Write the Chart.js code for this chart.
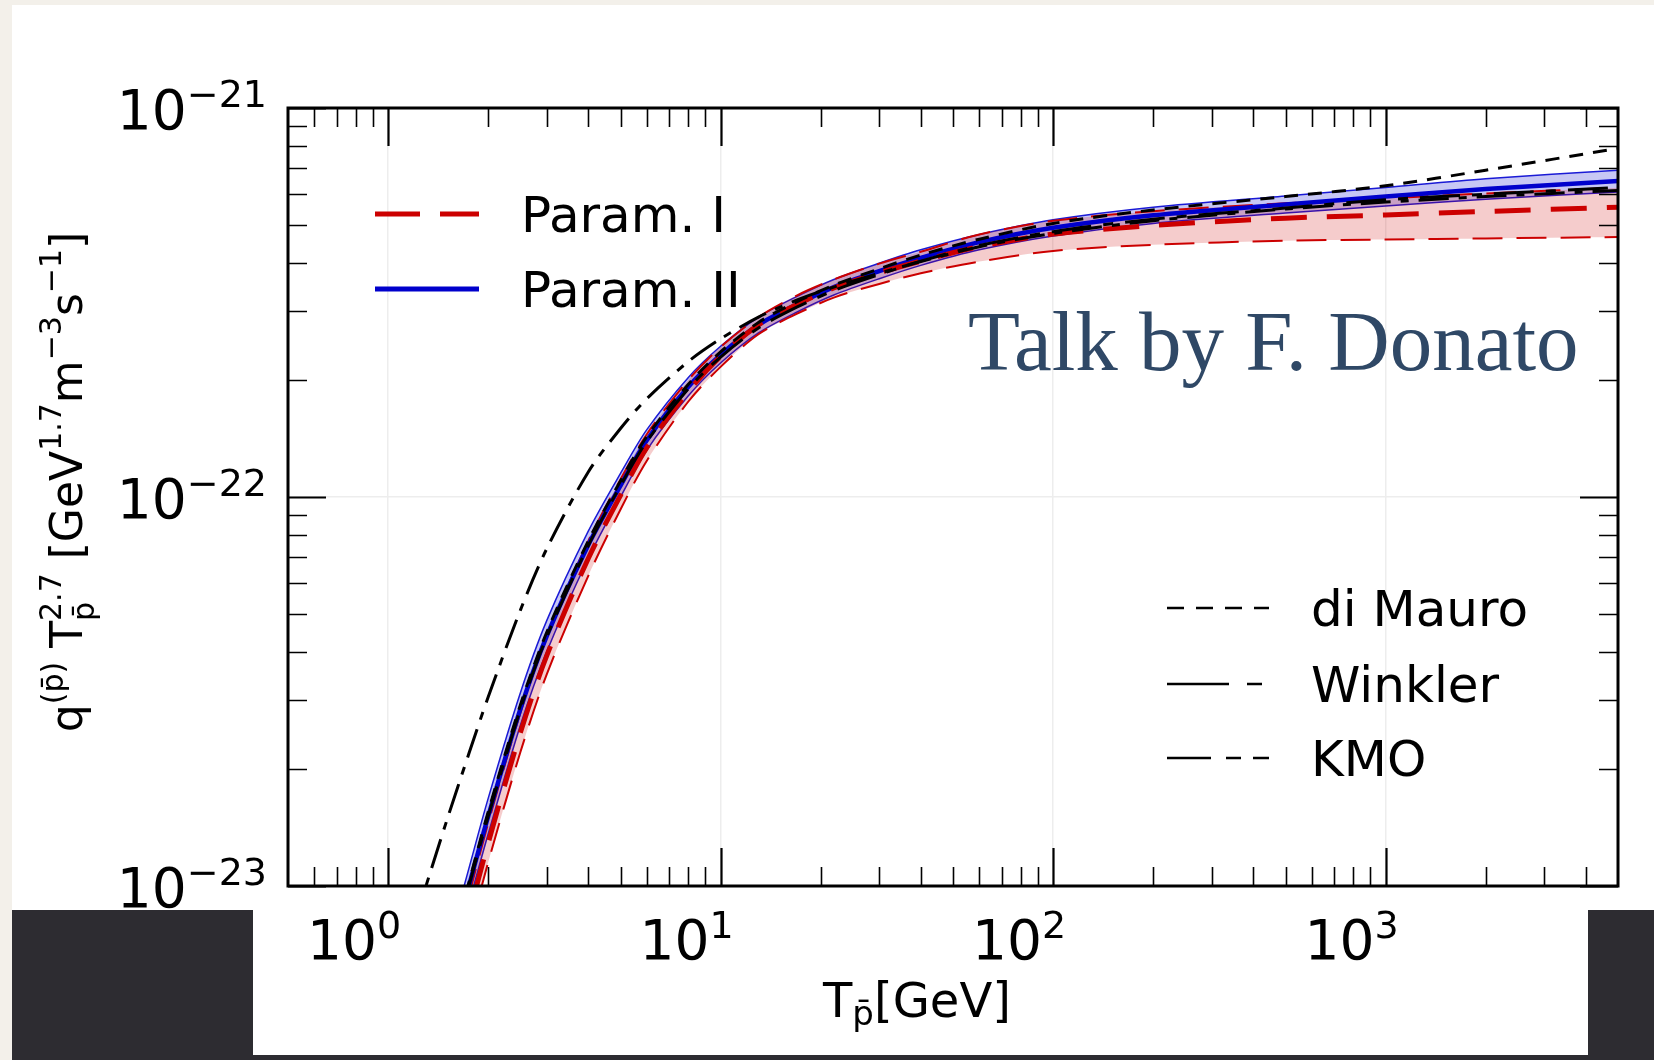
<!DOCTYPE html>
<html>
<head>
<meta charset="utf-8">
<script src="https://cdn.jsdelivr.net/npm/chart.js@4.4.1/dist/chart.umd.min.js"></script>
<style>
  html, body { margin: 0; padding: 0; }
  body { width: 1654px; height: 1060px; background: #f3f0ea; position: relative; overflow: hidden; }
  #hoja { position: absolute; left: 12px; top: 5px; width: 1642px; height: 905px; background: #fff; }
  #franja { position: absolute; left: 12px; top: 910px; width: 1642px; height: 150px; background: #2d2c31; }
  #hoja2 { position: absolute; left: 253px; top: 910px; width: 1335px; height: 145px; background: #fff; }
  #grafica { position: absolute; left: 0; top: 0; }
</style>
</head>
<body>
<div id="hoja"></div>
<div id="franja"></div>
<div id="hoja2"></div>
<canvas id="grafica" width="1654" height="1060"></canvas>
<script>
// energia del antiproton T [GeV]
var energia = [1.5, 1.75, 2, 2.5, 3, 4, 5, 6, 8, 10, 13, 17, 22, 30, 40, 60, 100, 200, 500, 1000, 2000, 5000];
var energiaKMO = [1.2, 1.3, 1.5, 1.75, 2, 2.5, 3, 4, 5, 6, 8, 10, 13, 17, 22, 30, 40, 60, 100, 200, 500, 1000, 2000, 5000];

// q T^2.7 [GeV^1.7 m^-3 s^-1]
var param1 = [5.01e-24, 8.41e-24, 1.29e-23, 2.48e-23, 3.91e-23, 6.95e-23, 1.01e-22, 1.34e-22, 1.87e-22, 2.30e-22, 2.77e-22, 3.13e-22, 3.45e-22, 3.77e-22, 4.04e-22, 4.40e-22, 4.74e-22, 4.99e-22, 5.21e-22, 5.31e-22, 5.42e-22, 5.56e-22];
var param1Max = [5.62e-24, 9.44e-24, 1.45e-23, 2.79e-23, 4.37e-23, 7.71e-23, 1.11e-22, 1.45e-22, 2.00e-22, 2.43e-22, 2.90e-22, 3.30e-22, 3.63e-22, 3.98e-22, 4.27e-22, 4.73e-22, 5.13e-22, 5.43e-22, 5.69e-22, 5.86e-22, 6.03e-22, 6.24e-22];
var param1Min = [4.47e-24, 7.50e-24, 1.15e-23, 2.21e-23, 3.50e-23, 6.27e-23, 9.29e-23, 1.24e-22, 1.76e-22, 2.16e-22, 2.62e-22, 2.96e-22, 3.26e-22, 3.53e-22, 3.76e-22, 4.03e-22, 4.29e-22, 4.45e-22, 4.56e-22, 4.59e-22, 4.62e-22, 4.66e-22];

var param2 = [6.17e-24, 1.00e-23, 1.51e-23, 2.85e-23, 4.39e-23, 7.53e-23, 1.07e-22, 1.40e-22, 1.92e-22, 2.32e-22, 2.77e-22, 3.13e-22, 3.47e-22, 3.81e-22, 4.12e-22, 4.52e-22, 4.92e-22, 5.30e-22, 5.65e-22, 5.92e-22, 6.19e-22, 6.49e-22];
var param2Max = [6.84e-24, 1.11e-23, 1.68e-23, 3.14e-23, 4.81e-23, 8.17e-23, 1.15e-22, 1.49e-22, 2.03e-22, 2.44e-22, 2.90e-22, 3.28e-22, 3.63e-22, 3.99e-22, 4.32e-22, 4.73e-22, 5.16e-22, 5.56e-22, 5.94e-22, 6.25e-22, 6.58e-22, 6.92e-22];
var param2Min = [5.56e-24, 9.02e-24, 1.36e-23, 2.59e-23, 4.00e-23, 6.95e-23, 1.00e-22, 1.32e-22, 1.82e-22, 2.21e-22, 2.64e-22, 2.99e-22, 3.31e-22, 3.64e-22, 3.94e-22, 4.32e-22, 4.69e-22, 5.05e-22, 5.37e-22, 5.60e-22, 5.83e-22, 6.08e-22];

var diMauro = [6.31e-24, 1.02e-23, 1.55e-23, 2.92e-23, 4.49e-23, 7.71e-23, 1.10e-22, 1.43e-22, 1.95e-22, 2.36e-22, 2.81e-22, 3.18e-22, 3.51e-22, 3.86e-22, 4.19e-22, 4.60e-22, 5.05e-22, 5.47e-22, 5.92e-22, 6.31e-22, 6.92e-22, 7.87e-22];
var winkler = [6.17e-24, 1.00e-23, 1.51e-23, 2.85e-23, 4.37e-23, 7.50e-23, 1.07e-22, 1.39e-22, 1.90e-22, 2.29e-22, 2.72e-22, 3.08e-22, 3.40e-22, 3.73e-22, 4.04e-22, 4.43e-22, 4.81e-22, 5.18e-22, 5.53e-22, 5.81e-22, 6.00e-22, 6.25e-22];
var kmo = [8.02e-24, 1.00e-23, 1.47e-23, 2.19e-23, 3.06e-23, 5.12e-23, 7.36e-23, 1.16e-22, 1.50e-22, 1.79e-22, 2.23e-22, 2.55e-22, 2.90e-22, 3.21e-22, 3.47e-22, 3.76e-22, 4.03e-22, 4.40e-22, 4.76e-22, 5.13e-22, 5.50e-22, 5.73e-22, 5.92e-22, 6.14e-22];

// ticks
var xMayores = [1, 10, 100, 1000];
var xMenores = [0.6, 0.7, 0.8, 0.9, 2, 3, 4, 5, 6, 7, 8, 9, 20, 30, 40, 50, 60, 70, 80, 90, 200, 300, 400, 500, 600, 700, 800, 900, 2000, 3000, 4000];
var xEtiquetas = [['10', '0'], ['10', '1'], ['10', '2'], ['10', '3']];
var yMayores = [1e-23, 1e-22, 1e-21];
var yMenores = [2e-23, 3e-23, 4e-23, 5e-23, 6e-23, 7e-23, 8e-23, 9e-23, 2e-22, 3e-22, 4e-22, 5e-22, 6e-22, 7e-22, 8e-22, 9e-22];
var yEtiquetas = [['10', '\u221223'], ['10', '\u221222'], ['10', '\u221221']];

var fuente = '"DejaVu Sans", "Bitstream Vera Sans", sans-serif';

function puntos(xs, ys) {
  return xs.map(function (v, i) { return { x: v, y: ys[i] }; });
}

// texto con super/subindices: [texto, tamaño, dy, apilar]
function medirRico(ctx, partes) {
  var x = 0, items = [], pila = null, anchoPila = 0;
  partes.forEach(function (p) {
    ctx.font = p[1] + 'px ' + fuente;
    var w = ctx.measureText(p[0]).width;
    if (pila !== null) {
      items.push({ p: p, x: pila });
      x = pila + Math.max(anchoPila, w);
      pila = null;
    } else if (p[3]) {
      items.push({ p: p, x: x });
      pila = x; anchoPila = w;
    } else {
      items.push({ p: p, x: x });
      x += w;
    }
  });
  return { items: items, ancho: x };
}

function dibujarRico(ctx, x0, y0, partes) {
  var m = medirRico(ctx, partes);
  m.items.forEach(function (it) {
    ctx.font = it.p[1] + 'px ' + fuente;
    ctx.fillText(it.p[0], x0 + it.x, y0 + it.p[2]);
  });
  return m.ancho;
}

var decoracion = {
  id: 'decoracion',
  afterDatasetsDraw: function (chart) {
    var ctx = chart.ctx, a = chart.chartArea, sx = chart.scales.x, sy = chart.scales.y;
    ctx.save();
    ctx.strokeStyle = '#000';
    ctx.setLineDash([]);

    function marcasX(lista, largo, ancho) {
      ctx.lineWidth = ancho;
      lista.forEach(function (v) {
        var px = Math.round(sx.getPixelForValue(v)) + 0.5;
        ctx.beginPath();
        ctx.moveTo(px, a.bottom); ctx.lineTo(px, a.bottom - largo);
        ctx.moveTo(px, a.top); ctx.lineTo(px, a.top + largo);
        ctx.stroke();
      });
    }
    function marcasY(lista, largo, ancho) {
      ctx.lineWidth = ancho;
      lista.forEach(function (v) {
        var py = Math.round(sy.getPixelForValue(v)) + 0.5;
        ctx.beginPath();
        ctx.moveTo(a.left, py); ctx.lineTo(a.left + largo, py);
        ctx.moveTo(a.right, py); ctx.lineTo(a.right - largo, py);
        ctx.stroke();
      });
    }
    marcasX(xMenores, 19, 1.6);
    marcasX(xMayores, 38, 2.2);
    marcasY(yMenores, 19, 1.6);
    marcasY(yMayores, 38, 2.2);

    ctx.lineWidth = 3;
    ctx.strokeRect(a.left, a.top, a.right - a.left, a.bottom - a.top);
    ctx.restore();
  },
  afterDraw: function (chart) {
    var ctx = chart.ctx, a = chart.chartArea, sx = chart.scales.x, sy = chart.scales.y;
    ctx.save();
    ctx.fillStyle = '#000';
    ctx.textBaseline = 'alphabetic';
    ctx.textAlign = 'left';

    // etiquetas eje x
    xMayores.forEach(function (v, i) {
      var partes = [[xEtiquetas[i][0], 55, 0], [xEtiquetas[i][1], 38, -21]];
      var w = medirRico(ctx, partes).ancho;
      var c = sx.getPixelForValue(v) - 34;
      dibujarRico(ctx, c - w / 2, a.bottom + 73, partes);
    });
    // etiquetas eje y
    yMayores.forEach(function (v, i) {
      var partes = [[yEtiquetas[i][0], 55, 0], [yEtiquetas[i][1], 38, -22]];
      var w = medirRico(ctx, partes).ancho;
      dibujarRico(ctx, 267 - w, sy.getPixelForValue(v) + 21, partes);
    });

    // titulo eje x
    var tx = [['T', 48, 0], ['p\u0304', 34, 8], ['[GeV]', 48, 0]];
    var wx = medirRico(ctx, tx).ancho;
    dibujarRico(ctx, 917 - wx / 2, 1017, tx);

    // titulo eje y
    var ty = [['q', 44, 0], ['(p\u0304)', 30, -19], [' T', 44, 0], ['2.7', 30, -21, true], ['p\u0304', 30, 12],
      [' [GeV', 44, 0], ['1.7', 30, -21], ['m', 44, 0], ['\u22123', 30, -21], ['s', 44, 0], ['\u22121', 30, -21], [']', 44, 0]];
    var wy = medirRico(ctx, ty).ancho;
    ctx.save();
    ctx.translate(82, 482);
    ctx.rotate(-Math.PI / 2);
    dibujarRico(ctx, -wy / 2, 0, ty);
    ctx.restore();

    // leyendas
    function linea(x1, x2, y, color, ancho, guion) {
      ctx.save();
      ctx.strokeStyle = color; ctx.lineWidth = ancho; ctx.setLineDash(guion);
      ctx.beginPath(); ctx.moveTo(x1, y); ctx.lineTo(x2, y); ctx.stroke();
      ctx.restore();
    }
    ctx.font = '50px ' + fuente;
    linea(375, 479, 214, '#cc0000', 5, [45, 20]);
    linea(375, 479, 289, '#0000cc', 5, []);
    ctx.fillText('Param. I', 521, 232);
    ctx.fillText('Param. II', 521, 307);

    linea(1167, 1269, 608, '#000', 2.5, [17, 12]);
    linea(1167, 1269, 684, '#000', 2.5, [62, 18, 15, 100]);
    linea(1167, 1269, 758, '#000', 2.5, [44, 15, 15, 12]);
    ctx.fillText('di Mauro', 1311, 626);
    ctx.fillText('Winkler', 1311, 702);
    ctx.fillText('KMO', 1311, 776);

    // nota de la diapositiva
    ctx.fillStyle = '#2f4866';
    ctx.font = '85px "Liberation Serif", "Times New Roman", serif';
    ctx.fillText('Talk by F. Donato', 968, 370);
    ctx.restore();
  }
};

var comun = { pointRadius: 0, tension: 0.3, clip: 0, fill: false };

var grafica = new Chart(document.getElementById('grafica').getContext('2d'), {
  type: 'line',
  data: {
    datasets: [
      Object.assign({}, comun, { label: 'di Mauro', data: puntos(energia, diMauro), borderColor: '#000', borderWidth: 3, borderDash: [14, 10] }),
      Object.assign({}, comun, { label: 'Winkler', data: puntos(energia, winkler), borderColor: '#000', borderWidth: 3, borderDash: [40, 12, 10, 12] }),
      Object.assign({}, comun, { label: 'KMO', data: puntos(energiaKMO, kmo), borderColor: '#000', borderWidth: 3, borderDash: [30, 10, 8, 10] }),
      Object.assign({}, comun, { label: 'Param. I', data: puntos(energia, param1), borderColor: '#cc0000', borderWidth: 5, borderDash: [36, 20] }),
      Object.assign({}, comun, { label: 'Param. II', data: puntos(energia, param2), borderColor: '#0000cc', borderWidth: 4.5 }),
      Object.assign({}, comun, { label: 'Param. I max', data: puntos(energia, param1Max), borderColor: '#cc0000', borderWidth: 2, borderDash: [30, 14], fill: '+1', backgroundColor: 'rgba(204,0,0,0.2)' }),
      Object.assign({}, comun, { label: 'Param. I min', data: puntos(energia, param1Min), borderColor: '#cc0000', borderWidth: 2, borderDash: [30, 14] }),
      Object.assign({}, comun, { label: 'Param. II max', data: puntos(energia, param2Max), borderColor: '#1a1ad6', borderWidth: 1.5, fill: '+1', backgroundColor: 'rgba(0,0,204,0.22)' }),
      Object.assign({}, comun, { label: 'Param. II min', data: puntos(energia, param2Min), borderColor: '#1a1ad6', borderWidth: 1.5 })
    ]
  },
  options: {
    responsive: false,
    animation: false,
    devicePixelRatio: 1,
    layout: { padding: { left: 288, right: 36, top: 108, bottom: 174 } },
    plugins: { legend: { display: false }, tooltip: { enabled: false } },
    scales: {
      x: {
        type: 'logarithmic', min: 0.5, max: 5000, bounds: 'data',
        afterBuildTicks: function (s) { s.ticks = xMayores.map(function (v) { return { value: v }; }); },
        afterFit: function (s) { s.height = 0; },
        ticks: { display: false },
        grid: { color: '#ededed', lineWidth: 1.5, drawTicks: false },
        border: { display: false }
      },
      y: {
        type: 'logarithmic', min: 1e-23, max: 1e-21, bounds: 'data',
        afterBuildTicks: function (s) { s.ticks = yMayores.map(function (v) { return { value: v }; }); },
        afterFit: function (s) { s.width = 0; },
        ticks: { display: false },
        grid: { color: '#ededed', lineWidth: 1.5, drawTicks: false },
        border: { display: false }
      }
    }
  },
  plugins: [decoracion]
});
</script>
</body>
</html>
